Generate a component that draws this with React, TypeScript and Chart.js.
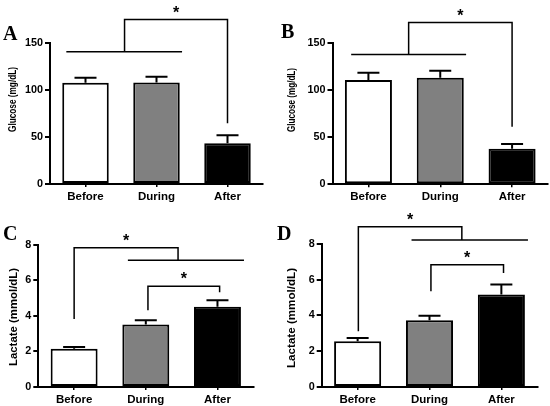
import React, { useEffect, useRef } from "react";
import { Chart, registerables } from "chart.js";

Chart.register(...registerables);

// ---- data ----
const categories = ["Before", "During", "After"];

const glucoseA = [107.8, 108.0, 43.3];
const glucoseAErr = [5.3, 6.0, 8.5];
const glucoseB = [111.0, 113.4, 37.9];
const glucoseBErr = [7.7, 7.5, 5.0];
const lactateC = [2.15, 3.52, 4.51];
const lactateCErr = [0.1, 0.23, 0.36];
const lactateD = [2.55, 3.72, 5.16];
const lactateDErr = [0.19, 0.26, 0.56];

const glucoseTicks = [0, 50, 100, 150];
const lactateTicks = [0, 2, 4, 6, 8];

const glucoseTitle = "Glucose (mg/dL)";
const lactateTitle = "Lactate (mmol/dL)";
const panelLetters = ["A", "B", "C", "D"];

// significance brackets (category index, value units)
type Bracket = { x1: number; x2: number; top: number; dropL: number; dropR: number };
type GroupLine = { x1: number; x2: number; y: number };

const groupA: GroupLine[] = [{ x1: -0.27, x2: 1.36, y: 140.7 }];
const bracketsA: Bracket[] = [{ x1: 0.55, x2: 2.0, top: 175, dropL: 140.7, dropR: 64.5 }];
const groupB: GroupLine[] = [{ x1: -0.24, x2: 1.36, y: 138 }];
const bracketsB: Bracket[] = [{ x1: 0.56, x2: 2.0, top: 172, dropL: 138, dropR: 61.3 }];
const groupC: GroupLine[] = [{ x1: 0.75, x2: 2.37, y: 7.12 }];
const bracketsC: Bracket[] = [
  { x1: 0.0, x2: 1.45, top: 7.83, dropL: 3.82, dropR: 7.12 },
  { x1: 1.03, x2: 2.03, top: 5.66, dropL: 4.31, dropR: 5.32 },
];
const groupD: GroupLine[] = [{ x1: 0.75, x2: 2.37, y: 8.2 }];
const bracketsD: Bracket[] = [
  { x1: 0.01, x2: 1.45, top: 8.94, dropL: 3.11, dropR: 8.2 },
  { x1: 1.02, x2: 2.03, top: 6.83, dropL: 5.35, dropR: 6.37 },
];

const barColors = ["#ffffff", "#808080", "#000000"];

// ---- layout ----
const W = 275;
const H = 203;
const SANS = '"Liberation Sans", Arial, sans-serif';
const SERIF = '"Liberation Serif", "Times New Roman", serif';

type Panel = {
  letter: string;
  pos: { x: number; y: number };
  area: { left: number; right: number; top: number; bottom: number };
  values: number[];
  errors: number[];
  ticks: number[];
  title: string;
  titleLen: number;
  titlePos: { x: number; y: number };
  letterPos: { x: number; y: number };
  groups: GroupLine[];
  brackets: Bracket[];
};

const panels: Panel[] = [
  {
    letter: panelLetters[0], pos: { x: 0, y: 0 },
    area: { left: 50, right: 263, top: 43, bottom: 184 },
    values: glucoseA, errors: glucoseAErr, ticks: glucoseTicks,
    title: glucoseTitle, titleLen: 65, titlePos: { x: 12.5, y: 99.5 },
    letterPos: { x: 3, y: 40 }, groups: groupA, brackets: bracketsA,
  },
  {
    letter: panelLetters[1], pos: { x: 275, y: 0 },
    area: { left: 57.5, right: 273, top: 43.3, bottom: 184.3 },
    values: glucoseB, errors: glucoseBErr, ticks: glucoseTicks,
    title: glucoseTitle, titleLen: 64, titlePos: { x: 17, y: 100 },
    letterPos: { x: 6, y: 37.5 }, groups: groupB, brackets: bracketsB,
  },
  {
    letter: panelLetters[2], pos: { x: 0, y: 203 },
    area: { left: 38.3, right: 253.3, top: 41.7, bottom: 184 },
    values: lactateC, errors: lactateCErr, ticks: lactateTicks,
    title: lactateTitle, titleLen: 98, titlePos: { x: 13.5, y: 114 },
    letterPos: { x: 3, y: 36.5 }, groups: groupC, brackets: bracketsC,
  },
  {
    letter: panelLetters[3], pos: { x: 275, y: 203 },
    area: { left: 46.7, right: 262.3, top: 40.7, bottom: 184 },
    values: lactateD, errors: lactateDErr, ticks: lactateTicks,
    title: lactateTitle, titleLen: 100, titlePos: { x: 17, y: 115 },
    letterPos: { x: 2, y: 36.5 }, groups: groupD, brackets: bracketsD,
  },
];

function makePlugin(p: Panel) {
  return {
    id: "decor" + p.letter,
    afterDatasetsDraw(chart: any) {
      const ctx = chart.ctx;
      const ys = chart.scales.y;
      const meta = chart.getDatasetMeta(0);
      ctx.save();
      ctx.strokeStyle = "#000";
      ctx.lineWidth = 2;
      meta.data.forEach((el: any, i: number) => {
        const top = ys.getPixelForValue(p.values[i] + p.errors[i]);
        const y0 = ys.getPixelForValue(p.values[i]);
        ctx.beginPath();
        ctx.moveTo(el.x, y0);
        ctx.lineTo(el.x, top);
        ctx.moveTo(el.x - 11, top);
        ctx.lineTo(el.x + 11, top);
        ctx.stroke();
      });
      ctx.restore();
    },
    afterDraw(chart: any) {
      const ctx = chart.ctx;
      const xs = chart.scales.x;
      const ys = chart.scales.y;
      const px = (v: number) => xs.getPixelForValue(v);
      const py = (v: number) => ys.getPixelForValue(v);
      ctx.save();
      ctx.strokeStyle = "#000";
      ctx.fillStyle = "#000";
      ctx.lineWidth = 1.5;
      p.groups.forEach((g) => {
        ctx.beginPath();
        ctx.moveTo(px(g.x1), py(g.y));
        ctx.lineTo(px(g.x2), py(g.y));
        ctx.stroke();
      });
      ctx.font = "bold 16px " + SANS;
      ctx.textAlign = "center";
      ctx.textBaseline = "alphabetic";
      p.brackets.forEach((b) => {
        ctx.beginPath();
        ctx.moveTo(px(b.x1), py(b.dropL));
        ctx.lineTo(px(b.x1), py(b.top));
        ctx.lineTo(px(b.x2), py(b.top));
        ctx.lineTo(px(b.x2), py(b.dropR));
        ctx.stroke();
        ctx.fillText("*", (px(b.x1) + px(b.x2)) / 2, py(b.top) - 2);
      });
      // y axis title (fitted to measured length)
      ctx.save();
      ctx.translate(p.titlePos.x, p.titlePos.y);
      ctx.rotate(-Math.PI / 2);
      ctx.font = "bold 11.4px " + SANS;
      const w = ctx.measureText(p.title).width;
      ctx.scale(p.titleLen / w, 1);
      ctx.textAlign = "center";
      ctx.textBaseline = "middle";
      ctx.fillText(p.title, 0, 0);
      ctx.restore();
      // panel letter
      ctx.font = "bold 20px " + SERIF;
      ctx.textAlign = "left";
      ctx.textBaseline = "alphabetic";
      ctx.fillText(p.letter, p.letterPos.x, p.letterPos.y);
      ctx.restore();
    },
  };
}

function PanelChart({ p }: { p: Panel }) {
  const ref = useRef<HTMLCanvasElement | null>(null);
  useEffect(() => {
    if (!ref.current) return;
    const a = p.area;
    const chart = new Chart(ref.current, {
      type: "bar",
      data: {
        labels: categories,
        datasets: [
          {
            data: p.values,
            backgroundColor: barColors,
            borderColor: "#000",
            borderWidth: 2,
            borderSkipped: false,
            barPercentage: 0.655,
            categoryPercentage: 1,
          },
        ],
      },
      options: {
        responsive: false,
        animation: false,
        devicePixelRatio: 1,
        layout: { padding: { left: 0, top: a.top, right: W - a.right, bottom: 0 } },
        plugins: {
          legend: { display: false },
          tooltip: { enabled: false },
          title: { display: false },
        },
        scales: {
          x: {
            type: "category",
            offset: true,
            grid: {
              display: true,
              offset: false,
              drawOnChartArea: false,
              drawTicks: true,
              tickLength: 3,
              color: "#000",
              lineWidth: 1.5,
            },
            border: { display: true, color: "#000", width: 2 },
            ticks: {
              color: "#000",
              padding: 3,
              maxRotation: 0,
              autoSkip: false,
              font: { family: SANS, size: 11.5, weight: "bold" },
            },
            afterFit: (s: any) => {
              s.height = H - a.bottom;
            },
          },
          y: {
            min: p.ticks[0],
            max: p.ticks[p.ticks.length - 1],
            grid: {
              display: true,
              drawOnChartArea: false,
              drawTicks: true,
              tickLength: 5,
              color: "#000",
              lineWidth: 2,
            },
            border: { display: true, color: "#000", width: 2 },
            ticks: {
              color: "#000",
              padding: 2,
              font: { family: SANS, size: 10.8, weight: "bold" },
            },
            afterBuildTicks: (s: any) => {
              s.ticks = p.ticks.map((v) => ({ value: v }));
            },
            afterFit: (s: any) => {
              s.width = a.left;
            },
          },
        },
      } as any,
      plugins: [makePlugin(p)],
    });
    return () => chart.destroy();
  }, [p]);
  return (
    <canvas
      ref={ref}
      width={W}
      height={H}
      style={{ position: "absolute", left: p.pos.x, top: p.pos.y, width: W, height: H }}
    />
  );
}

export default function App() {
  return (
    <div
      style={{
        position: "fixed",
        left: 0,
        top: 0,
        width: 550,
        height: 406,
        background: "#ffffff",
        overflow: "hidden",
      }}
    >
      {panels.map((p) => (
        <PanelChart key={p.letter} p={p} />
      ))}
    </div>
  );
}
